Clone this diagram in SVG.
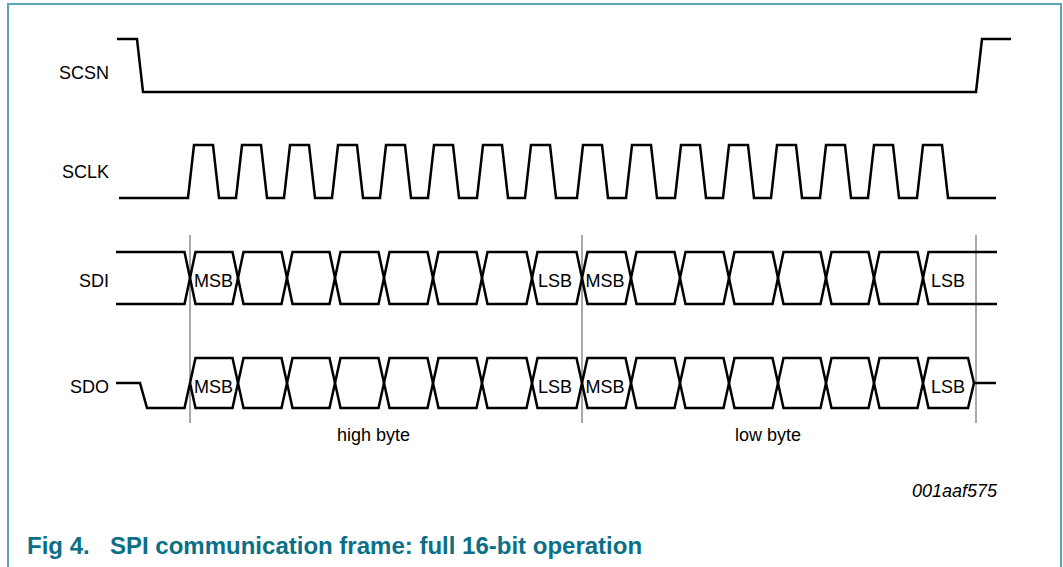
<svg xmlns="http://www.w3.org/2000/svg" width="1063" height="567" viewBox="0 0 1063 567">
<style>
.sig{fill:none;stroke:#000;stroke-width:2.5;stroke-linejoin:miter}
.div{stroke:#555;stroke-width:1}
.lbl{font-family:"Liberation Sans",Arial,sans-serif;font-size:18px;fill:#000}
.cell{font-family:"Liberation Sans",Arial,sans-serif;font-size:18px;fill:#000;text-anchor:middle}
.cap{font-family:"Liberation Sans",Arial,sans-serif;font-size:24px;font-weight:bold;fill:#0b6f86}
</style>
<rect width="1063" height="567" fill="#fff"/>
<path d="M8,567 V4 H1061 V567" fill="none" stroke="#5aa6b6" stroke-width="2"/>

<g id="dividers">
<line class="div" x1="190" y1="235" x2="190" y2="423"/>
<line class="div" x1="582" y1="235" x2="582" y2="423" stroke="#000"/>
<line class="div" x1="976" y1="235" x2="976" y2="423"/>
</g>

<g id="scsn">
<text class="lbl" x="109" y="79" text-anchor="end">SCSN</text>
<path class="sig" d="M117,39 H137 L143,92 H976 L982,39 H1011"/>
</g>

<g id="sclk">
<text class="lbl" x="109" y="177.5" text-anchor="end">SCLK</text>
<path class="sig" d="M119,198 H188 L194,145 H213 L219,198 H236 L242,145 H261 L267,198 H284 L290,145 H309 L315,198 H332 L338,145 H357 L363,198 H380 L386,145 H405 L411,198 H428 L434,145 H453 L459,198 H477 L483,145 H502 L508,198 H525 L531,145 H550 L556,198 H577 L583,145 H602 L608,198 H626 L632,145 H651 L657,198 H675 L681,145 H700 L706,198 H723 L729,145 H748 L754,198 H771 L777,145 H796 L802,198 H820 L826,145 H845 L851,198 H868 L874,145 H893 L899,198 H917 L923,145 H942 L948,198 H996"/>
</g>

<g id="sdi">
<text class="lbl" x="109" y="286.5" text-anchor="end">SDI</text>
<path class="sig" d="M116,252 H184.5 L195.5,304 H232.5 L243.5,252 H281.5 L292.5,304 H329.5 L340.5,252 H378.5 L389.5,304 H427.5 L438.5,252 H476.5 L487.5,304 H526.5 L537.5,252 H576.5 L587.5,304 H625.5 L636.5,252 H674.5 L685.5,304 H723.5 L734.5,252 H772.5 L783.5,304 H820.5 L831.5,252 H868.5 L879.5,304 H917.5 L928.5,252 H997"/>
<path class="sig" d="M116,304 H184.5 L195.5,252 H232.5 L243.5,304 H281.5 L292.5,252 H329.5 L340.5,304 H378.5 L389.5,252 H427.5 L438.5,304 H476.5 L487.5,252 H526.5 L537.5,304 H576.5 L587.5,252 H625.5 L636.5,304 H674.5 L685.5,252 H723.5 L734.5,304 H772.5 L783.5,252 H820.5 L831.5,304 H868.5 L879.5,252 H917.5 L928.5,304 H997"/>
<text class="cell" x="213.5" y="286.5">MSB</text>
<text class="cell" x="555" y="286.5">LSB</text>
<text class="cell" x="605" y="286.5">MSB</text>
<text class="cell" x="948" y="286.5">LSB</text>
</g>

<g id="sdo">
<text class="lbl" x="109" y="393" text-anchor="end">SDO</text>
<path class="sig" d="M116,383 H140 L147,408 H184.5 L195.5,358 H232.5 L243.5,408 H281.5 L292.5,358 H329.5 L340.5,408 H378.5 L389.5,358 H427.5 L438.5,408 H476.5 L487.5,358 H526.5 L537.5,408 H576.5 L587.5,358 H625.5 L636.5,408 H674.5 L685.5,358 H723.5 L734.5,408 H772.5 L783.5,358 H820.5 L831.5,408 H868.5 L879.5,358 H917.5 L928.5,408 H968 L974,383 H996"/>
<path class="sig" d="M190,383 L195.5,408 H232.5 L243.5,358 H281.5 L292.5,408 H329.5 L340.5,358 H378.5 L389.5,408 H427.5 L438.5,358 H476.5 L487.5,408 H526.5 L537.5,358 H576.5 L587.5,408 H625.5 L636.5,358 H674.5 L685.5,408 H723.5 L734.5,358 H772.5 L783.5,408 H820.5 L831.5,358 H868.5 L879.5,408 H917.5 L928.5,358 H968 L974,383"/>
<text class="cell" x="213.5" y="393">MSB</text>
<text class="cell" x="555" y="393">LSB</text>
<text class="cell" x="605" y="393">MSB</text>
<text class="cell" x="948" y="393">LSB</text>
</g>

<g id="byte-labels">
<text class="lbl" x="337" y="441">high byte</text>
<text class="lbl" x="735" y="441">low byte</text>
</g>

<text id="figcode" class="lbl" x="997" y="496.5" text-anchor="end" font-style="italic" font-size="16">001aaf575</text>

<g id="caption">
<text class="cap" x="27" y="554">Fig 4.</text>
<text class="cap" x="110" y="554">SPI communication frame: full 16-bit operation</text>
</g>
</svg>
